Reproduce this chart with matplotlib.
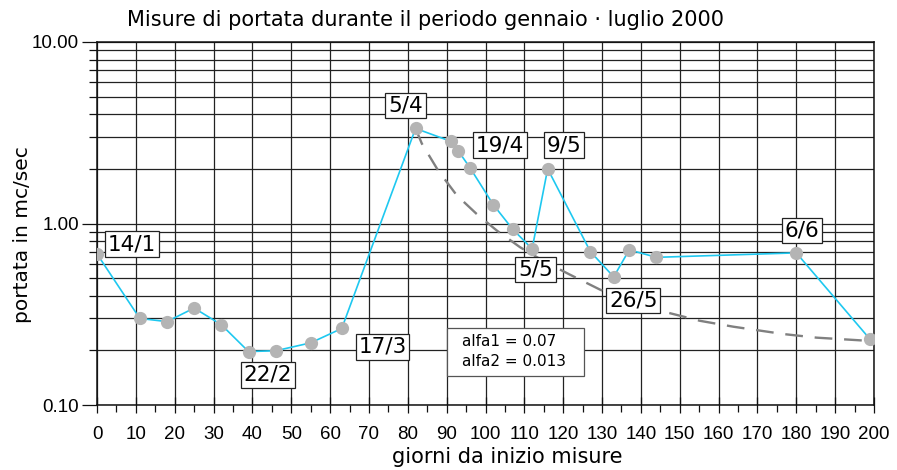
import matplotlib
matplotlib.use("Agg")
import matplotlib.pyplot as plt
from matplotlib.patches import Rectangle
from matplotlib.ticker import FixedLocator, NullFormatter, LogLocator

plt.rcParams['font.family'] = ['DejaVu Sans']

# measured discharge (days since start of measurements, m3/s)
giorni = [0, 11, 18, 25, 32, 39, 46, 55, 63, 82, 91, 93, 96, 102, 107, 112,
          116, 127, 133, 137, 144, 180, 199]
portata = [0.68, 0.30, 0.288, 0.342, 0.277, 0.197, 0.199, 0.22, 0.264, 3.34,
           2.84, 2.51, 2.03, 1.27, 0.93, 0.725, 2.0, 0.70, 0.508, 0.716,
           0.651, 0.689, 0.23]

# recession curve
rec_giorni = [82, 83.6, 87.8, 92.6, 97.7, 102.9, 108.9, 115, 121.7, 129.5,
              137, 146.6, 155.2, 163.8, 176.7, 185.2, 198.1]
rec_portata = [3.34, 2.76, 1.96, 1.43, 1.13, 0.915, 0.74, 0.62, 0.523, 0.432,
               0.37, 0.324, 0.291, 0.27, 0.246, 0.235, 0.226]

# date labels
etichette = ["14/1", "22/2", "17/3", "5/4", "19/4", "9/5", "5/5", "26/5", "6/6"]
etichette_pos = [(8.9, 0.770), (44.0, 0.1465), (73.5, 0.209), (79.4, 4.46),
                 (103.7, 2.70), (120.2, 2.70), (112.9, 0.557), (138.0, 0.376),
                 (181.5, 0.915)]

parametri = ["alfa1 = 0.07", "alfa2 = 0.013"]

x_ticks = list(range(0, 201, 10))
y_ticks = [0.1, 1.0, 10.0]
y_ticklabels = ["0.10", "1.00", "10.00"]

W, H = 897, 470
fig = plt.figure(figsize=(W / 100, H / 100), dpi=100)
ax = fig.add_axes([97 / W, 1 - 405 / H, (874 - 97) / W, (405 - 42) / H])

ax.set_yscale('log')
ax.set_xlim(0, 200)
ax.set_ylim(0.1, 10)

grid_col = '#222222'
tick_font = dict(family='Liberation Sans', size=13.5)
ax.set_xticks(x_ticks)
ax.set_xticklabels([str(t) for t in x_ticks], fontdict=tick_font)
ax.xaxis.set_minor_locator(FixedLocator(list(range(5, 200, 10))))
ax.set_yticks(y_ticks)
ax.set_yticklabels(y_ticklabels, fontdict=tick_font)
ax.yaxis.set_minor_locator(LogLocator(base=10, subs=range(2, 10)))
ax.yaxis.set_minor_formatter(NullFormatter())

ax.grid(True, which='major', axis='both', color=grid_col, lw=0.9)
ax.grid(True, which='minor', axis='y', color=grid_col, lw=0.9)
ax.set_axisbelow(True)

ax.tick_params(axis='x', which='major', direction='inout', length=12, width=0.9,
               pad=9, color='#111')
ax.tick_params(axis='x', which='minor', direction='out', length=5, width=0.9, color='#111')
ax.tick_params(axis='y', which='major', direction='out', length=11, width=0.9,
               pad=2, color='#111')
ax.tick_params(axis='y', which='minor', direction='out', length=6, width=0.9, color='#111')
for s in ax.spines.values():
    s.set_color('#111')
    s.set_linewidth(1.1)

ax.plot(rec_giorni, rec_portata, color='#808080', lw=1.7,
        dashes=(7.5, 5), zorder=3)
ax.plot(giorni, portata, color='#1ec8f0', lw=1.2, zorder=4,
        marker='o', markersize=8.5, markerfacecolor='#b4b4b4',
        markeredgecolor='#b4b4b4')

box = dict(boxstyle='square,pad=0.13', facecolor='white', edgecolor='#222', lw=0.9)
for testo, (xp, yp) in zip(etichette, etichette_pos):
    ax.text(xp, yp, testo, ha='center', va='center', fontsize=15.5,
            bbox=box, zorder=6)

# parameter box of the recession curve
fig.patches.append(Rectangle((447 / W, 1 - 376 / H), (584 - 447) / W, (376 - 328) / H,
                             transform=fig.transFigure, facecolor='white',
                             edgecolor='#555', lw=0.9, zorder=6))
for riga, yp in zip(parametri, [342, 362]):
    fig.text(462 / W, 1 - yp / H, riga, ha='left', va='center', fontsize=11, zorder=7)

fig.text(425 / W, 1 - 20 / H, "Misure di portata durante il periodo gennaio \u00b7 luglio 2000",
         ha='center', va='center', fontsize=15)
fig.text(507 / W, 1 - 457 / H, "giorni da inizio misure", ha='center', va='center',
         fontsize=15)
fig.text(23 / W, 1 - 235 / H, "portata in mc/sec", ha='center', va='center',
         rotation=90, fontsize=14.5)

fig.savefig("out.png", dpi=100)
